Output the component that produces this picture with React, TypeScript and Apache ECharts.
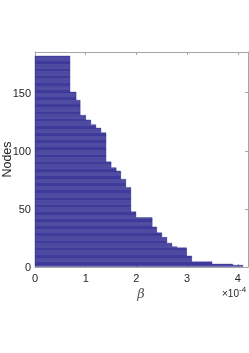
import React, { useEffect, useRef } from "react";
import * as echarts from "echarts";

// β values (in units of 1e-4), from the bottom node upward, and how many nodes share each value
const betaLevels = [4.1, 3.9, 3.49, 3.09, 2.99, 2.8, 2.7, 2.6, 2.5, 2.4, 2.31, 1.99, 1.89, 1.79, 1.69, 1.6, 1.5, 1.4, 1.3, 1.2, 1.1, 1.0, 0.89, 0.81, 0.69];
const nodeCounts = [1, 1, 2, 5, 7, 1, 3, 5, 4, 5, 8, 5, 21, 7, 7, 3, 5, 25, 4, 3, 4, 4, 13, 7, 31];
const xTickValues = [0, 1, 2, 3, 4];
const yTickValues = [0, 50, 100, 150];

export default function App() {
  const ref = useRef<HTMLDivElement>(null);
  useEffect(() => {
    const chart = echarts.init(ref.current!, null, { renderer: "svg" });
    const data: number[][] = [];
    let node = 1;
    betaLevels.forEach((b, i) => {
      for (let k = 0; k < nodeCounts[i]; k++) {
        data.push([b, node]);
        node++;
      }
    });
    const axisColor = "#a6a6a6";
    const labelStyle = { color: "#262626", fontSize: 11, fontFamily: "Liberation Sans, Arial, sans-serif" };
    const frameAxis = {
      type: "value",
      axisLine: { show: true, onZero: false, lineStyle: { color: axisColor, width: 1 } },
      axisTick: { show: true, inside: true, length: 3, lineStyle: { color: axisColor } },
      splitLine: { show: false },
    };
    chart.setOption({
      animation: false,
      grid: { left: 35, right: 1, top: 52, bottom: 86, containLabel: false, outerBoundsMode: "none" },
      xAxis: [
        {
          ...frameAxis,
          min: 0,
          max: 4.2,
          interval: 1,
          position: "bottom",
          axisLabel: {
            ...labelStyle,
            margin: 5,
            showMaxLabel: false,
            formatter: (v: number) => (xTickValues.includes(Math.round(v * 1000) / 1000) ? String(Math.round(v)) : ""),
          },
        },
        {
          ...frameAxis,
          min: 0,
          max: 4.2,
          interval: 1,
          position: "top",
          axisLabel: { show: false },
        },
      ],
      yAxis: [
        {
          ...frameAxis,
          min: 0,
          max: 185,
          interval: 50,
          position: "left",
          name: "Nodes",
          nameLocation: "middle",
          nameGap: 22,
          nameMoveOverlap: false,
          nameTextStyle: { color: "#262626", fontSize: 12.5, fontFamily: "Liberation Sans, Arial, sans-serif" },
          axisLabel: {
            ...labelStyle,
            margin: 4,
            showMaxLabel: false,
            formatter: (v: number) => (yTickValues.includes(v) ? String(v) : ""),
          },
        },
        {
          ...frameAxis,
          min: 0,
          max: 185,
          interval: 50,
          position: "right",
          axisLabel: { show: false },
        },
      ],
      graphic: [
        {
          type: "text",
          x: 141,
          y: 293,
          style: {
            text: "β",
            fill: "#555555",
            font: "italic 13px 'DejaVu Serif', serif",
            textAlign: "center",
            textVerticalAlign: "middle",
          },
        },
        {
          type: "text",
          x: 222,
          y: 288,
          style: {
            text: "×10",
            fill: "#262626",
            font: "10px 'Liberation Sans', Arial, sans-serif",
            textAlign: "left",
            textVerticalAlign: "top",
          },
        },
        {
          type: "text",
          x: 239,
          y: 285,
          style: {
            text: "-4",
            fill: "#262626",
            font: "8px 'Liberation Sans', Arial, sans-serif",
            textAlign: "left",
            textVerticalAlign: "top",
          },
        },
      ],
      series: [
        {
          type: "custom",
          xAxisIndex: 0,
          yAxisIndex: 0,
          encode: { x: 0, y: 1 },
          data,
          renderItem: (params: any, api: any) => {
            const v = api.value(0);
            const n = api.value(1);
            const p0 = api.coord([0, n + 0.5]);
            const p1 = api.coord([v, n - 0.5]);
            return {
              type: "rect",
              shape: { x: p0[0], y: p0[1], width: p1[0] - p0[0], height: p1[1] - p0[1] },
              style: { fill: "#4b48a8", stroke: "#322e8c", lineWidth: 0.4 },
            };
          },
        },
      ],
    });
    return () => chart.dispose();
  }, []);
  return <div ref={ref} style={{ position: "fixed", left: 0, top: 0, width: 249, height: 353 }} />;
}
